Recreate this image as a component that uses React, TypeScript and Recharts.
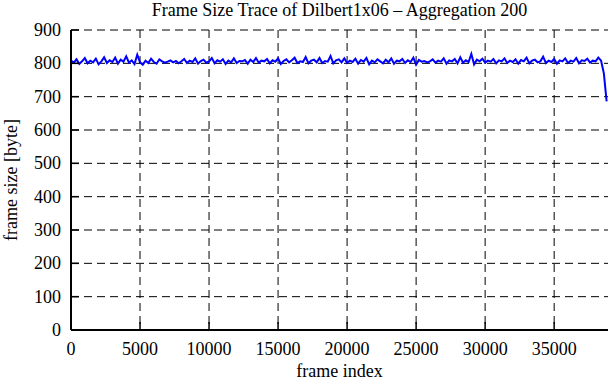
import { LineChart, Line, XAxis, YAxis, CartesianGrid } from 'recharts';

const AGGREGATION = 200;

// mean frame size per block of 200 frames
const frameSizes = [
  808, 802, 812, 798, 806, 816, 800, 808, 803, 814,
  797, 806, 818, 801, 809, 804, 817, 799, 811, 805,
  821, 802, 809, 798, 826, 803, 796, 808, 801, 814,
  804, 799, 812, 806, 802, 805, 809, 803, 807, 800,
  806, 813, 801, 808, 804, 815, 799, 807, 811, 802,
  806, 816, 800, 809, 805, 812, 798, 808, 803, 815,
  801, 807, 806, 810, 799, 811, 804, 816, 802, 808,
  806, 813, 800, 809, 805, 815, 798, 807, 812, 803,
  809, 817, 801, 806, 804, 819, 800, 808, 811, 803,
  816, 801, 807, 805, 822, 800, 809, 812, 803, 815,
  801, 808, 804, 814, 799, 810, 805, 816, 797, 808,
  803, 812, 806, 800, 811, 803, 815, 799, 808, 806,
  813, 801, 809, 804, 817, 796, 810, 805, 807, 803,
  806, 812, 802, 808, 805, 815, 799, 809, 806, 813,
  800, 818, 802, 809, 804, 828, 797, 811, 806, 814,
  802, 808, 805, 813, 800, 809, 806, 815, 801, 808,
  804, 812, 799, 810, 806, 817, 800, 808, 811, 803,
  806, 820, 801, 808, 804, 813, 799, 809, 806, 815,
  801, 808, 805, 816, 800, 809, 807, 814, 802, 808,
  806, 817, 808, 770, 686,
];

const xTicks = [0, 5000, 10000, 15000, 20000, 25000, 30000, 35000];
const yTicks = [0, 100, 200, 300, 400, 500, 600, 700, 800, 900];

const data = frameSizes.map((size, i) => ({ frame: i * AGGREGATION, size }));

const FONT = '"Liberation Serif", "Times New Roman", serif';
const TICK_LEN = 8;

const BottomTick = ({ x, y, payload }: any) => (
  <g>
    <line x1={x} y1={y} x2={x} y2={y - TICK_LEN} stroke="#000" strokeWidth={1.5} />
    <text x={x} y={y + 25} textAnchor="middle" fontSize={18} fontFamily={FONT} fill="#000">
      {payload.value}
    </text>
  </g>
);

const LeftTick = ({ x, y, payload }: any) => (
  <g>
    <line x1={x} y1={y} x2={x + TICK_LEN} y2={y} stroke="#000" strokeWidth={1.5} />
    <text x={x - 10} y={y + 6} textAnchor="end" fontSize={18} fontFamily={FONT} fill="#000">
      {payload.value}
    </text>
  </g>
);

const TopTick = ({ x, y }: any) => (
  <line x1={x} y1={y} x2={x} y2={y + TICK_LEN} stroke="#000" strokeWidth={1.5} />
);

const RightTick = ({ x, y }: any) => (
  <line x1={x} y1={y} x2={x - TICK_LEN} y2={y} stroke="#000" strokeWidth={1.5} />
);

export default function App() {
  return (
    <div style={{ position: 'absolute', left: 0, top: 0, width: 611, height: 380, background: '#fff', fontFamily: FONT }}>
      <div
        style={{
          position: 'absolute',
          top: 1,
          left: 71,
          width: 537,
          textAlign: 'center',
          fontSize: 18,
          lineHeight: '18px',
          color: '#000',
        }}
      >
        Frame Size Trace of Dilbert1x06 – Aggregation 200
      </div>
      <LineChart width={611} height={380} data={data} margin={{ top: 30, right: 3, bottom: 0, left: 0 }}>
        <CartesianGrid stroke="#000" strokeDasharray="8 5" strokeWidth={1} horizontalValues={yTicks} verticalValues={xTicks} />
        <XAxis
          dataKey="frame"
          type="number"
          domain={[0, 38900]}
          ticks={xTicks}
          interval={0}
          height={50}
          tickSize={0}
          tickMargin={0}
          tickLine={false}
          axisLine={{ stroke: '#000', strokeWidth: 2 }}
          tick={<BottomTick />}
          label={{ value: 'frame index', position: 'insideBottom', offset: 3, fontSize: 18, fontFamily: FONT, fill: '#000' }}
        />
        <XAxis
          xAxisId="top"
          orientation="top"
          dataKey="frame"
          type="number"
          domain={[0, 38900]}
          ticks={xTicks}
          interval={0}
          height={0}
          tickSize={0}
          tickMargin={0}
          tickLine={false}
          axisLine={{ stroke: '#000', strokeWidth: 2 }}
          tick={<TopTick />}
        />
        <YAxis
          type="number"
          domain={[0, 900]}
          ticks={yTicks}
          interval={0}
          width={71}
          tickSize={0}
          tickMargin={0}
          tickLine={false}
          axisLine={{ stroke: '#000', strokeWidth: 2 }}
          tick={<LeftTick />}
          label={{
            content: () => (
              <text x={17} y={180} transform="rotate(-90 17 180)" textAnchor="middle" fontSize={18} fontFamily={FONT} fill="#000">
                frame size [byte]
              </text>
            ),
          }}
        />
        <YAxis
          yAxisId="right"
          orientation="right"
          type="number"
          domain={[0, 900]}
          ticks={yTicks}
          interval={0}
          width={0}
          tickSize={0}
          tickMargin={0}
          tickLine={false}
          axisLine={{ stroke: '#000', strokeWidth: 2 }}
          tick={<RightTick />}
        />
        <Line
          type="linear"
          dataKey="size"
          stroke="#0000ff"
          strokeWidth={2}
          dot={false}
          isAnimationActive={false}
        />
      </LineChart>
    </div>
  );
}
